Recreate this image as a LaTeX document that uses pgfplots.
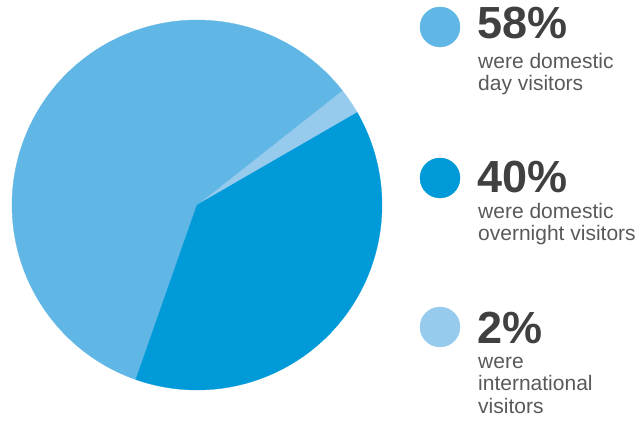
\documentclass[border=0pt]{standalone}
\usepackage{pgfplots}
\pgfplotsset{compat=1.18}
\usepackage{fontspec}
\setmainfont{Liberation Sans}
\definecolor{cday}{HTML}{60B6E5}
\definecolor{cnight}{HTML}{009AD9}
\definecolor{cintl}{HTML}{97CBEE}
\definecolor{bigtxt}{HTML}{404040}
\definecolor{smalltxt}{HTML}{595959}

% slice shares (%), as drawn in the pie
\def\pIntl{2.3}
\def\pDay{59.0}
\def\pNight{38.7}

\newcommand{\bignum}[1]{{\fontsize{45bp}{50bp}\selectfont\bfseries #1}}
\newcommand{\smalltext}[1]{{\fontsize{21bp}{22bp}\selectfont #1}}

\begin{document}
\begin{tikzpicture}
\pgfmathsetmacro\aA{30}
\pgfmathsetmacro\aB{\aA+3.6*\pIntl}
\pgfmathsetmacro\aC{\aB+3.6*\pDay}
\pgfmathsetmacro\aD{\aC+3.6*\pNight}
\def\cx{197}
\def\cy{223}
\def\rr{185}
\begin{axis}[
    width=642bp, height=428bp,
    scale only axis,
    xmin=0, xmax=642, ymin=0, ymax=428,
    hide axis,
    clip=false,
    ]
\path (rel axis cs:0,0) rectangle (rel axis cs:1,1);
% pie slices
\addplot[fill=cintl, draw=cintl, line width=0.3bp, domain=\aA:\aB, samples=10, variable=\t]
    ({\cx+\rr*cos(\t)},{\cy+\rr*sin(\t)}) -- (axis cs:\cx,\cy) -- cycle;
\addplot[fill=cday, draw=cday, line width=0.3bp, domain=\aB:\aC, samples=150, variable=\t]
    ({\cx+\rr*cos(\t)},{\cy+\rr*sin(\t)}) -- (axis cs:\cx,\cy) -- cycle;
\addplot[fill=cnight, draw=cnight, line width=0.3bp, domain=\aC:\aD, samples=110, variable=\t]
    ({\cx+\rr*cos(\t)},{\cy+\rr*sin(\t)}) -- (axis cs:\cx,\cy) -- cycle;

% legend dots
\addplot[only marks, mark=*, mark size=20bp, cday, mark options={draw=none}] coordinates {(440,401)};
\addplot[only marks, mark=*, mark size=20bp, cnight, mark options={draw=none}] coordinates {(440,250)};
\addplot[only marks, mark=*, mark size=20bp, cintl, mark options={draw=none}] coordinates {(440,101)};

% legend text
\node[anchor=base west, inner sep=0pt, text=bigtxt] at (axis cs:477,389) {\bignum{58\%}};
\node[anchor=base west, inner sep=0pt, text=smalltxt] at (axis cs:478,359) {\smalltext{were domestic}};
\node[anchor=base west, inner sep=0pt, text=smalltxt] at (axis cs:478,337) {\smalltext{day visitors}};

\node[anchor=base west, inner sep=0pt, text=bigtxt] at (axis cs:477,235) {\bignum{40\%}};
\node[anchor=base west, inner sep=0pt, text=smalltxt] at (axis cs:478,209) {\smalltext{were domestic}};
\node[anchor=base west, inner sep=0pt, text=smalltxt] at (axis cs:478,187) {\smalltext{overnight visitors}};

\node[anchor=base west, inner sep=0pt, text=bigtxt] at (axis cs:477,84) {\bignum{2\%}};
\node[anchor=base west, inner sep=0pt, text=smalltxt] at (axis cs:478,59) {\smalltext{were}};
\node[anchor=base west, inner sep=0pt, text=smalltxt] at (axis cs:478,37) {\smalltext{international}};
\node[anchor=base west, inner sep=0pt, text=smalltxt] at (axis cs:478,15) {\smalltext{visitors}};
\end{axis}
\end{tikzpicture}
\end{document}
